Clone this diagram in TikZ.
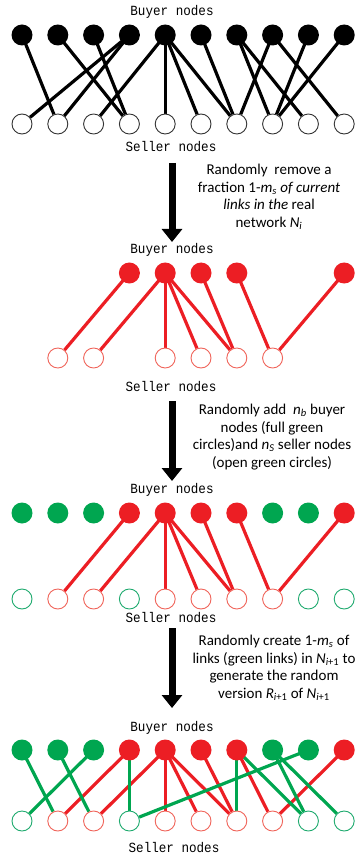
\documentclass[tikz,border=0pt]{standalone}
\usepackage{fontspec}
\setmainfont{Carlito}
\newfontfamily\labfont[FakeStretch=0.9]{Liberation Mono}
\usetikzlibrary{arrows.meta}
\definecolor{nred}{RGB}{236,30,36}
\definecolor{ngreen}{RGB}{0,166,80}
\definecolor{sred}{RGB}{240,100,90}
\definecolor{sgreen}{RGB}{30,170,110}
\pgfdeclarelayer{bg}
\pgfsetlayers{bg,main}
\begin{document}
\begin{tikzpicture}[x=1pt,y=-1pt,
 buyer/.style={circle,inner sep=0pt,minimum size=21pt,fill=#1},
 seller/.style={circle,inner sep=0pt,minimum size=20pt,draw=#1,fill=white,line width=0.9pt},
 link/.style={line width=3.2pt,draw=#1},
 lab/.style={font=\labfont\fontsize{14}{14}\selectfont,inner sep=0pt},
 desc/.style={align=center,font=\fontsize{15}{17.7}\selectfont,inner sep=0pt},
 bigarrow/.style={line width=7pt,-{Triangle[width=20pt,length=13pt]}}
]
\useasboundingbox (0,0) rectangle (357,858);

% ---------- Panel 1 ----------
\node[lab] (l1b) at (172,12) {Buyer nodes};
\node[lab] (l1s) at (171,147) {Seller nodes};
\foreach \i/\x in {1/22,2/57.8,3/93.6,4/129.4,5/165.2,6/201,7/236.8,8/272.6,9/308.4,10/344.2}{
  \node[buyer=black] (p1b\i) at (\x,35) {};
  \node[seller=black!80] (p1s\i) at (\x,124) {};
}
\begin{pgfonlayer}{bg}
\foreach \b/\s in {1/2,2/4,3/4,4/1,4/2,5/3,5/5,5/6,5/7,6/7,7/8,7/9,8/7,8/10,9/8,10/8}
  \draw[link=black] (p1b\b.center) -- (p1s\s);
\end{pgfonlayer}

\coordinate (a1s) at (172,163);
\coordinate (a1e) at (172,242);
\draw[bigarrow] (a1s) -- (a1e);
\node[desc] (t1) at (269,197) {Randomly\ \ remove a\\fraction 1-\textit{m}\textsubscript{\textit{s}} \textit{of current}\\\textit{links in the} real\\network \textit{N}\textsubscript{\textit{i}}};

% ---------- Panel 2 ----------
\node[lab] (l2b) at (172,250) {Buyer nodes};
\node[lab] (l2s) at (171,387) {Seller nodes};
\foreach \i/\x in {4/129.4,5/165.2,6/201,7/236.8,10/344.2}
  \node[buyer=nred] (p2b\i) at (\x,273) {};
\foreach \i/\x in {2/57.8,3/93.6,5/165.2,6/201,7/236.8,8/272.6}
  \node[seller=sred] (p2s\i) at (\x,358) {};
\begin{pgfonlayer}{bg}
\foreach \b/\s in {4/2,5/3,5/5,5/6,5/7,6/7,7/8,10/8}
  \draw[link=nred] (p2b\b.center) -- (p2s\s);
\end{pgfonlayer}

\coordinate (a2s) at (172,401);
\coordinate (a2e) at (172,481);
\draw[bigarrow] (a2s) -- (a2e);
\node[desc] (t2) at (272,437) {Randomly add\ \ \textit{n}\textsubscript{\textit{b}} buyer\\nodes (full green\\circles)and \textit{n}\textsubscript{\textit{S}} seller nodes\\(open green circles)};

% ---------- Panel 3 ----------
\node[lab] (l3b) at (172,490) {Buyer nodes};
\node[lab] (l3s) at (171,618) {Seller nodes};
\foreach \i/\x/\c in {1/22/ngreen,2/57.8/ngreen,3/93.6/ngreen,4/129.4/nred,5/165.2/nred,6/201/nred,7/236.8/nred,8/272.6/ngreen,9/308.4/ngreen,10/344.2/nred}
  \node[buyer=\c] (p3b\i) at (\x,513) {};
\foreach \i/\x/\c in {1/22/sgreen,2/57.8/sred,3/93.6/sred,4/129.4/sgreen,5/165.2/sred,6/201/sred,7/236.8/sred,8/272.6/sred,9/308.4/sgreen,10/344.2/sgreen}
  \node[seller=\c] (p3s\i) at (\x,599) {};
\begin{pgfonlayer}{bg}
\foreach \b/\s in {4/2,5/3,5/5,5/6,5/7,6/7,7/8,10/8}
  \draw[link=nred] (p3b\b.center) -- (p3s\s);
\end{pgfonlayer}

\coordinate (a3s) at (172,628);
\coordinate (a3e) at (172,708);
\draw[bigarrow] (a3s) -- (a3e);
\node[desc] (t3) at (274,668) {Randomly create 1-\textit{m}\textsubscript{\textit{s}} of\\links (green links) in \textit{N}\textsubscript{\textit{i}+1} to\\generate the random\\version \textit{R}\textsubscript{\textit{i}+1} of \textit{N}\textsubscript{\textit{i}+1}};

% ---------- Panel 4 ----------
\node[lab] (l4b) at (172,728) {Buyer nodes};
\node[lab] (l4s) at (174,848) {Seller nodes};
\foreach \i/\x/\c in {1/22/ngreen,2/57.8/ngreen,3/93.6/ngreen,4/129.4/nred,5/165.2/nred,6/201/nred,7/236.8/nred,8/272.6/ngreen,9/308.4/ngreen,10/344.2/nred}
  \node[buyer=\c] (p4b\i) at (\x,750) {};
\foreach \i/\x/\c in {1/22/sgreen,2/57.8/sred,3/93.6/sred,4/129.4/sgreen,5/165.2/sred,6/201/sred,7/236.8/sred,8/272.6/sred,9/308.4/sgreen,10/344.2/sgreen}
  \node[seller=\c] (p4s\i) at (\x,821) {};
\begin{pgfonlayer}{bg}
\foreach \b/\s in {4/2,5/3,5/5,5/6,5/7,6/7,7/8,10/8}
  \draw[link=nred] (p4b\b.center) -- (p4s\s);
\foreach \b/\s in {1/2,2/3,3/1,4/4,9/4,7/7,7/9,8/9,8/10}
  \draw[link=ngreen] (p4b\b.center) -- (p4s\s);
\end{pgfonlayer}
\end{tikzpicture}
\end{document}
